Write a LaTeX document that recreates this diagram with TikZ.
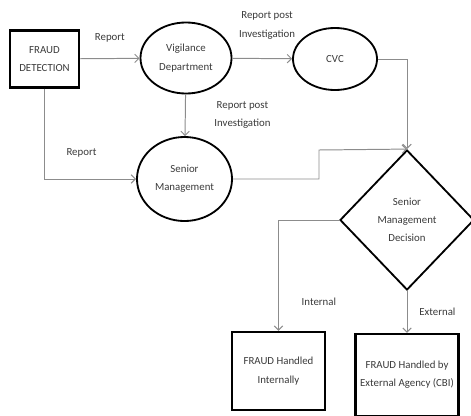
\documentclass[tikz,border=0pt]{standalone}
\usepackage{fontspec}
\setmainfont{Carlito}
\usetikzlibrary{arrows.meta, shapes.geometric, positioning}
\definecolor{flowgray}{HTML}{8C8C8C}
\definecolor{textgray}{HTML}{3A3A3A}

\begin{document}
\begin{tikzpicture}[x=0.025cm, y=-0.025cm,
    every node/.style={font=\fontsize{7.7}{13}\selectfont, text=textgray, align=center},
    box/.style={draw=black, line width=1.6pt, inner sep=0pt},
    oval/.style={draw=black, ellipse, line width=1.3pt, inner sep=0pt},
    flow/.style={draw=flowgray, line width=0.7pt, -{Straight Barb[length=3pt,width=6pt]}}]
  \useasboundingbox (0,0) rectangle (471,415);
  \node[box, minimum width=1.725cm, minimum height=1.425cm] (fraud) at (44.5,59) {FRAUD\\DETECTION};
  \node[oval, minimum width=2.275cm, minimum height=1.775cm] (vig) at (186,58) {Vigilance\\Department};
  \node[oval, minimum width=2.1cm, minimum height=1.55cm] (cvc) at (335,59) {CVC};
  \node[oval, minimum width=2.375cm, minimum height=2.1cm] (senior) at (184.5,179) {Senior\\Management};
  \node[draw=black, diamond, line width=1.3pt, inner sep=0pt, minimum width=3.35cm, minimum height=3.5cm] (dec) at (407,220) {Senior\\Management\\Decision};
  \node[box, minimum width=2.325cm, minimum height=1.95cm] (int) at (278.5,371) {FRAUD Handled\\Internally};
  \node[box, minimum width=2.575cm, minimum height=2.05cm] (ext) at (407,375) {FRAUD Handled by\\External Agency (CBI)};
  \coordinate (jog) at (319,150);

  \draw[flow] (fraud) -- (vig) node[midway, above=0.28cm] (lrep1) {Report};
  \draw[flow] (vig) -- (cvc) node[midway, above=0.36cm, xshift=0.12cm] (lpost1) {Report post\\Investigation};
  \draw[flow] (vig) -- (senior) node[midway, right=0.6cm] (lpost2) {Report post\\Investigation};
  \draw[flow] (fraud.south) |- (senior.west) node[pos=0.75, above=0.42cm, xshift=-0.22cm] (lrep2) {Report};
  \draw[flow] (cvc.east) -| (dec.north);
  \draw[flow] (senior.east) -| (jog) -- (dec.north);
  \draw[flow] (dec.west) -| (int.north) node[pos=0.87, right=0.45cm] (lint) {Internal};
  \draw[flow] (dec.south) -- (ext.north) node[midway, right=0.18cm] (lext) {External};
\end{tikzpicture}
\end{document}
